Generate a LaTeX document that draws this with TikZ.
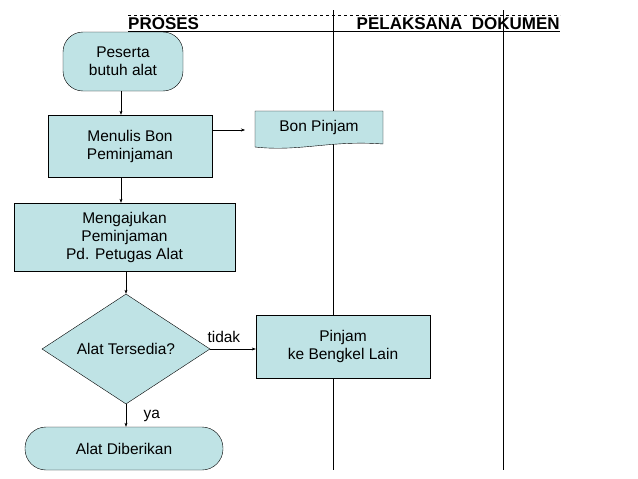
\documentclass[tikz,border=0pt]{standalone}
\usepackage{fontspec}
\setmainfont{Liberation Sans}
\usetikzlibrary{shapes.geometric,arrows.meta}
\definecolor{boxfill}{HTML}{BFE3E5}
\begin{document}
\begin{tikzpicture}[x=1pt,y=-1pt,font=\fontsize{15.5}{18}\selectfont,
  box/.style={draw,fill=boxfill,align=center,inner sep=0pt},
  arr/.style={-{Stealth[length=4pt,width=3pt]}}]
\useasboundingbox (0,0) rectangle (638,479);
% header
\draw[dashed] (128,15) -- (560,15);
\draw (128,31) -- (560,31);
\node[anchor=base west,font=\fontsize{17}{18}\selectfont\bfseries,inner sep=0pt] (hp) at (128,29) {PROSES};
\node[anchor=base east,font=\fontsize{17}{18}\selectfont\bfseries,inner sep=0pt] (hd) at (560,29) {PELAKSANA\ \ DOKUMEN};
\draw (333,10) -- (333,470);
\draw (503,10) -- (503,470);
% nodes
\node[box,rounded corners=20pt,minimum width=120pt,minimum height=59pt] (a) at (123,61.5) {Peserta\\butuh alat};
\node[box,minimum width=164pt,minimum height=62pt] (b) at (130,146) {Menulis Bon\\Peminjaman};
\draw[fill=boxfill] (255,111) -- (383,111) -- (383,144) .. controls (330,140) and (300,152) .. (255,147) -- cycle;
\node[inner sep=0pt] (d) at (319,127) {Bon Pinjam};
\coordinate (dl) at (245,130);
\node[box,minimum width=221pt,minimum height=68pt] (c) at (124.5,237) {Mengajukan\\Peminjaman\\Pd. Petugas Alat};
\node[box,diamond,aspect=1.53,minimum width=168pt,minimum height=110pt] (e) at (126,349) {Alat Tersedia?};
\node[box,minimum width=174pt,minimum height=63pt] (f) at (343,346.5) {Pinjam\\ke Bengkel Lain};
\node[box,rounded corners=21pt,minimum width=198pt,minimum height=43pt] (g) at (124,448.5) {Alat Diberikan};
% connectors
\draw[arr] (a.south -| 121,0) -- (b.north -| 121,0);
\draw[arr] (b.east |- 0,130) -- (dl);
\draw[arr] (b.south -| 121,0) -- (c.north -| 121,0);
\draw[arr] (c.south -| e.north) -- (e.north);
\draw[arr] (e.east) -- (f.west |- e.east) node[pos=0.3,above=3pt] (t) {tidak};
\draw[arr] (e.south) -- (g.north -| e.south) node[pos=0.5,right=14pt] (y) {ya};
\end{tikzpicture}
\end{document}
